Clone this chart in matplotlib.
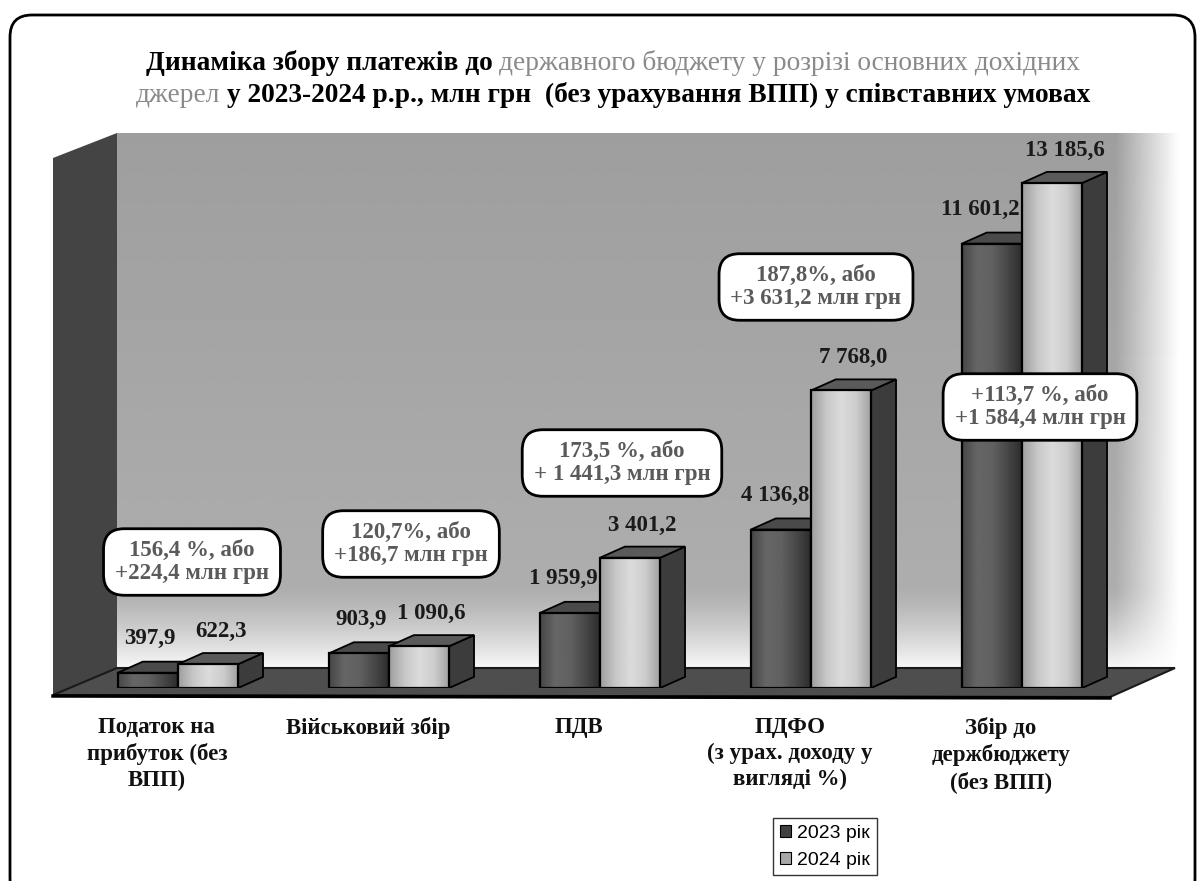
import numpy as np
import matplotlib
matplotlib.use('Agg')
import matplotlib.pyplot as plt
from matplotlib.patches import Polygon, Rectangle, FancyBboxPatch, Patch
from matplotlib.transforms import IdentityTransform

W, H = 1202, 881
SERIF = 'Liberation Serif'; SANS = 'Liberation Sans'

# --- data -------------------------------------------------------
categories = ['Податок на\nприбуток (без\nВПП)', 'Військовий збір', 'ПДВ',
              'ПДФО\n(з урах. доходу у\nвигляді %)', 'Збір до\nдержбюджету\n(без ВПП)']
v2023 = [397.9, 903.9, 1959.9, 4136.8, 11601.2]
v2024 = [622.3, 1090.6, 3401.2, 7768.0, 13185.6]
changes = ['156,4 %, або\n+224,4 млн грн', '120,7%, або\n+186,7 млн грн',
           '173,5 %, або\n+ 1 441,3 млн грн', '187,8%, або\n+3 631,2 млн грн',
           '+113,7 %, або\n+1 584,4 млн грн']
years = ['2023 рік', '2024 рік']

def fmt(v):
    return f'{v:,.1f}'.replace(',', ' ').replace('.', ',')

fig = plt.figure(figsize=(W/100, H/100), dpi=100)
fig.patch.set_facecolor('white')

# --- 3d "room": back wall, left wall, floor (pixel coords) -------
bg = fig.add_axes([0, 0, 1, 1], zorder=-1)
ys = np.linspace(0, 1, 300)[:, None]
xs = np.linspace(0, 1, 500)[None, :]
wall = 0.62 + 0.07*ys + 0.28*np.clip((ys-0.85)/0.15, 0, 1)**1.3
wall = wall + (1-wall)*np.clip((xs-0.94)/0.06, 0, 1)
bg.imshow(wall, extent=(117, 1180, 668, 133), cmap='gray', vmin=0, vmax=1,
          aspect='auto', interpolation='bilinear')
bg.add_patch(Polygon([(53, 158), (117, 133), (117, 668), (53, 695)], fc='#444444', ec='none'))
bg.add_patch(Polygon([(53, 695), (117, 668), (1175, 668), (1110, 697)],
                     fc='#4e4e4e', ec='#1a1a1a', lw=1.5))
bg.plot([53, 1110], [696, 698], color='black', lw=2.5)
bg.set_xlim(0, W); bg.set_ylim(H, 0); bg.axis('off')

# --- bars -------------------------------------------------------
ax = fig.add_axes([72.5/W, (H-688)/H, 1055/W, 536.2/H])
BW, DX, DY = 0.285, 0.118, 290

def draw_bar(x0, v, shades, top_c, side_c, z):
    x1 = x0 + BW
    ax.add_patch(Polygon([(x1, 0), (x1+DX, DY), (x1+DX, v+DY), (x1, v)],
                         fc=side_c, ec='black', lw=1.3, zorder=z))
    ax.add_patch(Polygon([(x0, v), (x1, v), (x1+DX, v+DY), (x0+DX, v+DY)],
                         fc=top_c, ec='black', lw=1.3, zorder=z))
    front = Rectangle((x0, 0), BW, v, fc='none', ec='black', lw=1.6, zorder=z+0.5)
    ax.add_patch(front)
    g = np.interp(np.linspace(0, 1, 80), np.linspace(0, 1, len(shades)), shades)[None, :]
    im = ax.imshow(g, extent=(x0, x1, 0, v), cmap='gray', vmin=0, vmax=1,
                   aspect='auto', interpolation='bilinear', zorder=z+0.3)
    im.set_clip_path(front)

z = 2
for i, (a, b) in enumerate(zip(v2023, v2024)):
    draw_bar(i-BW, a, [0.28, 0.40, 0.38, 0.28, 0.17], '#4a4a4a', '#333333', z); z += 1
    draw_bar(i, b, [0.62, 0.78, 0.86, 0.80, 0.62], '#5a5a5a', '#3c3c3c', z); z += 1
    ax.annotate(fmt(a), (i-0.01, a), xytext=(0, 17), textcoords='offset points',
                ha='right', va='bottom', fontsize=16.5, fontweight='bold',
                family=SERIF, color='#1a1a1a', zorder=20)
    ax.annotate(fmt(b), (i+BW/2+DX/2, b), xytext=(0, 16), textcoords='offset points',
                ha='center', va='bottom', fontsize=16.5, fontweight='bold',
                family=SERIF, color='#1a1a1a', zorder=20)

ax.set_xlim(-0.5, 4.5); ax.set_ylim(0, 14000)
ax.patch.set_visible(False)
for s in ax.spines.values(): s.set_visible(False)
ax.set_yticks([])
ax.set_xticks(np.arange(len(categories)) - 0.1)
ax.set_xticklabels(categories, fontfamily=SERIF, fontweight='bold', fontsize=16.5,
                   linespacing=1.28, color='#111111')
ax.tick_params(axis='x', length=0, pad=21)

# --- change callouts --------------------------------------------
box_xy = [(192, 562), (411, 544), (622, 463), (816, 287), (1040, 407)]
for (x, y), t in zip(box_xy, changes):
    fig.text(x/W, 1-y/H, t, ha='center', va='center', fontsize=16.5, fontweight='bold',
             family=SERIF, color='#5a5a5a', linespacing=1.1, zorder=30,
             bbox=dict(boxstyle='round,pad=0.5,rounding_size=0.9', fc='white', ec='black', lw=2))

# --- title (mixed black / gray segments) ------------------------
def title_line(segs, y, size=19.7):
    r = fig.canvas.get_renderer()
    gap = 0.25*size*100/72
    txt = [fig.text(0, 0, s, fontsize=size, fontweight=w, color=c, family=SERIF,
                    transform=IdentityTransform(), va='baseline') for s, w, c in segs]
    wd = [t.get_window_extent(r).width for t in txt]
    x = 613 - (sum(wd) + gap*(len(txt)-1))/2
    for t, w in zip(txt, wd):
        t.set_position((x, H-y)); x += w + gap

GR = '#8a8a8a'
title_line([('Динаміка збору платежів до', 'bold', 'black'),
            ('державного бюджету у розрізі основних дохідних', 'normal', GR)], 70)
title_line([('джерел', 'normal', GR),
            ('у 2023-2024 р.р., млн грн  (без урахування ВПП) у співставних умовах', 'bold', 'black')], 102)

# --- legend -----------------------------------------------------
hnd = [Patch(fc='#404040', ec='black', lw=0.8), Patch(fc='#a8a8a8', ec='black', lw=0.8)]
leg = fig.legend(hnd, years, loc='upper left', bbox_to_anchor=(773/W, 1-818/H),
                 prop={'family': SANS, 'size': 14}, frameon=True, fancybox=False,
                 handlelength=0.6, handleheight=0.6, handletextpad=0.3,
                 borderpad=0.35, labelspacing=0.5, borderaxespad=0)
leg.get_frame().set_edgecolor('black'); leg.get_frame().set_linewidth(1)

# --- outer rounded frame ----------------------------------------
fig.add_artist(FancyBboxPatch((10, H-900), 1185, 885, boxstyle='round,pad=0,rounding_size=22',
                              fc='none', ec='black', lw=2, transform=IdentityTransform(), zorder=40))

plt.savefig('out.png', dpi=100, facecolor='white')
